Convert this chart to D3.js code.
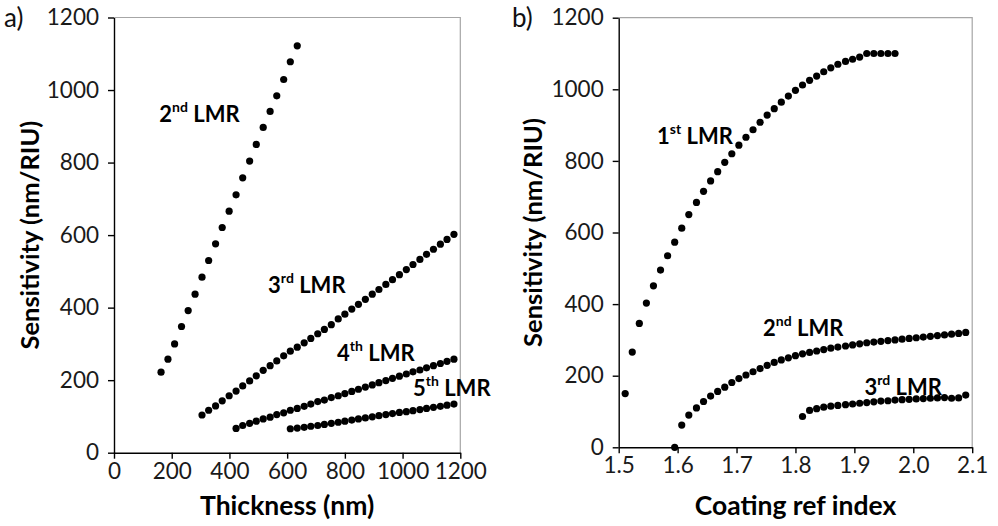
<!DOCTYPE html>
<html>
<head>
<meta charset="utf-8">
<script src="https://cdn.jsdelivr.net/npm/d3@7/dist/d3.min.js"></script>
<style>
  html, body { margin: 0; padding: 0; background: #fff; }
  svg { display: block; font-family: Lato, "Open Sans", sans-serif; }
</style>
</head>
<body>
<svg id="chart" width="998" height="526"></svg>
<script>
// ---- Panel a) : sensitivity vs coating thickness ----
const thickness = [163, 187, 210, 234, 257, 281, 305, 328, 352, 375, 399, 423, 446, 470, 493,
  517, 541, 564, 588, 611, 635, 659, 682, 706, 729, 753, 777, 800, 824, 847, 871, 895, 918,
  942, 965, 989, 1013, 1036, 1060, 1083, 1107, 1131, 1154, 1178];

// each series starts at a given index of the thickness grid
const thkLmr2 = [222, 258, 300, 348, 392, 437, 484, 530, 576, 621, 666, 711, 758, 804, 850,
  897, 941, 984, 1029, 1078, 1122];
const thkLmr3 = [104, 117, 129, 143, 157, 170, 184, 198, 212, 227, 240, 253, 267, 280, 291,
  303, 315, 328, 340, 353, 369, 382, 396, 409, 423, 437, 450, 464, 477, 491, 505, 519, 533,
  547, 561, 575, 588, 602];
const thkLmr4 = [67, 75, 81, 87, 93, 98, 105, 110, 117, 122, 128, 134, 141, 145, 152, 157,
  163, 169, 175, 181, 187, 193, 199, 205, 211, 217, 223, 228, 234, 240, 246, 252, 258];
const thkLmr5 = [66, 68, 70, 73, 75, 78, 81, 84, 87, 90, 93, 96, 99, 102, 105, 108, 111, 113,
  116, 119, 122, 125, 128, 131, 134];
const thkStart = [0, 6, 11, 19];
const thkOrdinals = [["2", "nd"], ["3", "rd"], ["4", "th"], ["5", "th"]];
const thkTicks = [0, 200, 400, 600, 800, 1000, 1200];

// ---- Panel b) : sensitivity vs coating refractive index ----
const refIndex = [1.511, 1.523, 1.535, 1.547, 1.559, 1.571, 1.583, 1.595, 1.607, 1.619, 1.632,
  1.644, 1.656, 1.668, 1.680, 1.692, 1.704, 1.716, 1.728, 1.740, 1.752, 1.764, 1.776, 1.788,
  1.800, 1.812, 1.824, 1.836, 1.848, 1.860, 1.872, 1.885, 1.897, 1.909, 1.921, 1.933, 1.945,
  1.957, 1.969, 1.981, 1.993, 2.005, 2.017, 2.029, 2.041, 2.053, 2.065, 2.077, 2.089];

const riLmr1 = [150, 266, 346, 403, 451, 495, 535, 573, 612, 650, 684, 715, 744, 770, 796,
  820, 844, 866, 887, 908, 928, 946, 964, 981, 997, 1012, 1025, 1037, 1049, 1060, 1070, 1078,
  1084, 1090, 1100, 1100, 1100, 1100, 1100];
const riLmr2 = [0, 62, 90, 110, 128, 143, 156, 168, 181, 192, 202, 211, 220, 229, 237, 244,
  250, 256, 261, 265, 269, 273, 277, 280, 283, 286, 289, 292, 294, 296, 298, 300, 302, 304,
  306, 308, 310, 312, 314, 316, 318, 321];
const riLmr3 = [86, 103, 108, 112, 115, 117, 119, 121, 123, 125, 127, 129, 130, 132, 133, 134,
  135, 136, 137, 138, 139, 137, 138, 146];
const riStart = [0, 7, 25];
const riOrdinals = [["1", "st"], ["2", "nd"], ["3", "rd"]];
const riTicks = [1.5, 1.6, 1.7, 1.8, 1.9, 2.0, 2.1];

const sensTicks = [0, 200, 400, 600, 800, 1000, 1200];

const svg = d3.select("#chart");

function buildSeries(xs, lists, starts) {
  return lists.map((vals, k) => vals.map((v, i) => ({ x: xs[starts[k] + i], y: v })));
}

function drawPanel(cfg) {
  const g = svg.append("g");
  const x = d3.scaleLinear().domain(cfg.xDomain).range([cfg.left, cfg.right]);
  const y = d3.scaleLinear().domain([0, 1200]).range([cfg.bottom, cfg.top]);

  // light frame on top and right
  g.append("path")
    .attr("d", `M${cfg.left},${cfg.top}H${cfg.right}V${cfg.bottom}`)
    .attr("fill", "none").attr("stroke", "#a6a6a6").attr("stroke-width", 1.2);

  const yAxis = g.append("g").attr("transform", `translate(${cfg.left},0)`)
    .call(d3.axisLeft(y).tickValues(sensTicks).tickSize(6).tickSizeOuter(0).tickPadding(9)
      .tickFormat(d3.format("d")));
  const xAxis = g.append("g").attr("transform", `translate(0,${cfg.bottom})`)
    .call(d3.axisBottom(x).tickValues(cfg.xTicks).tickSize(6).tickSizeOuter(0).tickPadding(4)
      .tickFormat(cfg.xFormat));
  [yAxis, xAxis].forEach(a => {
    a.select(".domain").attr("stroke", "#000").attr("stroke-width", 1.4);
    a.selectAll(".tick line").attr("stroke", "#000").attr("stroke-width", 1.4);
    a.selectAll(".tick text").attr("fill", "#1a1a1a")
      .style("font-family", "Lato, sans-serif").style("font-size", "22.5px");
  });

  // markers
  cfg.series.forEach(s => {
    g.append("g").selectAll("circle").data(s).join("circle")
      .attr("cx", d => x(d.x)).attr("cy", d => y(d.y)).attr("r", 3.6).attr("fill", "#000");
  });

  // series names with ordinal superscripts
  cfg.labels.forEach((lab, k) => {
    const t = g.append("text")
      .attr("x", x(cfg.labelAt[k][0])).attr("y", y(cfg.labelAt[k][1]))
      .attr("fill", "#000").style("font-weight", 700).style("font-size", "22px");
    t.append("tspan").text(lab[0]);
    t.append("tspan").attr("dy", -10).style("font-size", "14px").text(lab[1]);
    t.append("tspan").attr("dy", 10).text("\u00a0LMR");
  });

  // axis titles
  g.append("text")
    .attr("transform", `translate(${cfg.yTitleX},${(cfg.top + cfg.bottom) / 2}) rotate(-90)`)
    .attr("text-anchor", "middle").style("font-weight", 700).style("font-size", "25.5px")
    .text("Sensitivity (nm/RIU)");
  g.append("text")
    .attr("x", (cfg.left + cfg.right) / 2).attr("y", 515)
    .attr("text-anchor", "middle").style("font-weight", 700).style("font-size", "26.5px")
    .text(cfg.xTitle);

  // panel letter
  g.append("text").attr("x", cfg.letterX).attr("y", 27)
    .style("font-size", "26px").attr("fill", "#111").text(cfg.letter);
}

drawPanel({
  left: 114, right: 460.3, top: 17.5, bottom: 452.7,
  xDomain: [0, 1200], xTicks: thkTicks, xFormat: d3.format("d"),
  series: buildSeries(thickness, [thkLmr2, thkLmr3, thkLmr4, thkLmr5], thkStart),
  labels: thkOrdinals,
  labelAt: [[157, 912], [534, 440], [773, 252], [1036, 156]],
  yTitleX: 39, xTitle: "Thickness (nm)",
  letter: "a)", letterX: 4
});

drawPanel({
  left: 618.7, right: 972.2, top: 17.7, bottom: 447.3,
  xDomain: [1.5, 2.1], xTicks: riTicks, xFormat: d3.format(".1f"),
  series: buildSeries(refIndex, [riLmr1, riLmr2, riLmr3], riStart),
  labels: riOrdinals,
  labelAt: [[1.565, 848], [1.745, 310], [1.917, 145]],
  yTitleX: 542, xTitle: "Coating ref index",
  letter: "b)", letterX: 512
});
</script>
</body>
</html>
